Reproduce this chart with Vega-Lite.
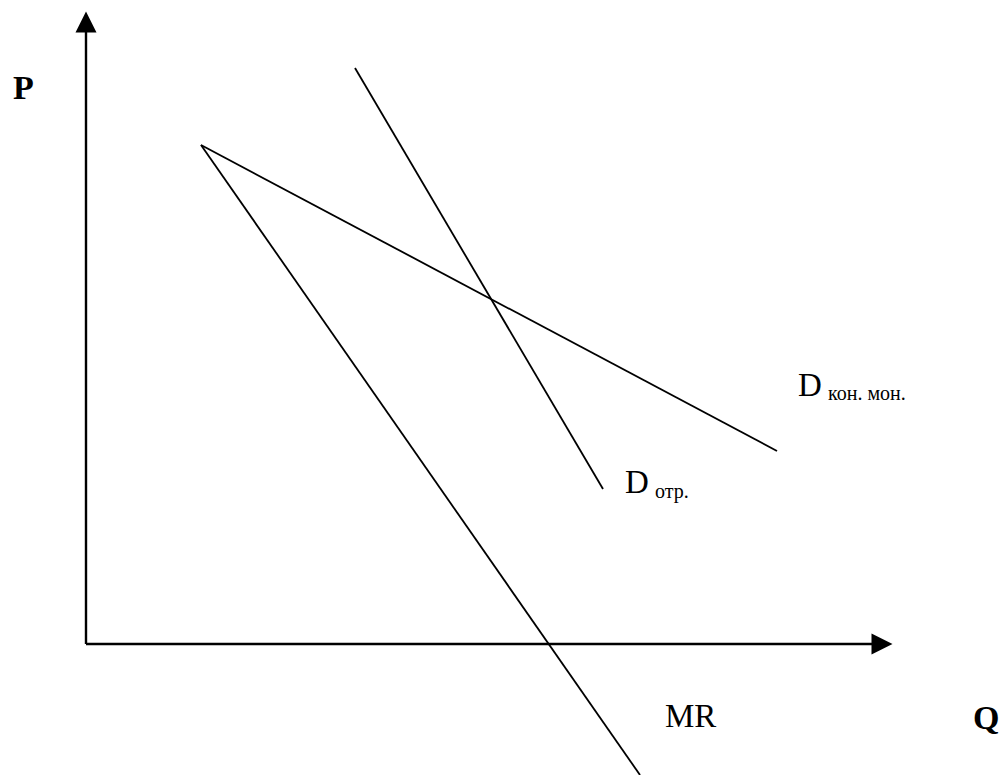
{
  "$schema": "https://vega.github.io/schema/vega-lite/v6.json",
  "width": 1005,
  "height": 775,
  "padding": 0,
  "autosize": {"type": "none"},
  "background": "white",
  "config": {"view": {"stroke": null}},
  "datasets": {
    "segments": [
      {"name": "P axis", "q1": 0, "p1": 0, "q2": 0, "p2": 614, "kind": "axis"},
      {"name": "Q axis", "q1": 0, "p1": 0, "q2": 788, "p2": 0, "kind": "axis"},
      {"name": "D_отр", "q1": 269, "p1": 576, "q2": 517, "p2": 155, "kind": "curve"},
      {"name": "D_кон.мон", "q1": 115, "p1": 499, "q2": 691, "p2": 193, "kind": "curve"},
      {"name": "MR", "q1": 115, "p1": 499, "q2": 554, "p2": -131, "kind": "curve"}
    ],
    "labels": [
      {"text": "P", "q": -73, "p": 545, "kind": "axis"},
      {"text": "Q", "q": 887, "p": -85, "kind": "axis"},
      {"text": "MR", "q": 579, "p": -83, "kind": "main"},
      {"text": "D", "q": 712, "p": 248, "kind": "main"},
      {"text": "кон. мон.", "q": 742, "p": 244, "kind": "sub"},
      {"text": "D", "q": 539, "p": 151, "kind": "main"},
      {"text": "отр.", "q": 569, "p": 146, "kind": "sub"}
    ],
    "arrows": [
      {"dir": "up", "q": 0, "p": 622},
      {"dir": "right", "q": 796, "p": 0}
    ]
  },
  "layer": [
    {
      "data": {"name": "segments"},
      "transform": [{"filter": "datum.kind === 'axis'"}],
      "mark": {"type": "rule", "color": "black", "strokeWidth": 2.4},
      "encoding": {
        "x": {"field": "q1", "type": "quantitative", "scale": {"domain": [-86, 919], "nice": false, "zero": false}, "axis": null},
        "y": {"field": "p1", "type": "quantitative", "scale": {"domain": [-131, 644], "nice": false, "zero": false}, "axis": null},
        "x2": {"field": "q2"},
        "y2": {"field": "p2"}
      }
    },
    {
      "data": {"name": "segments"},
      "transform": [{"filter": "datum.kind === 'curve'"}],
      "mark": {"type": "rule", "color": "black", "strokeWidth": 1.8},
      "encoding": {
        "x": {"field": "q1", "type": "quantitative", "axis": null},
        "y": {"field": "p1", "type": "quantitative", "axis": null},
        "x2": {"field": "q2"},
        "y2": {"field": "p2"}
      }
    },
    {
      "data": {"name": "arrows"},
      "transform": [{"filter": "datum.dir === 'up'"}],
      "mark": {"type": "point", "shape": "M0,-1L1,1L-1,1Z", "filled": true, "color": "black", "opacity": 1, "size": 441},
      "encoding": {
        "x": {"field": "q", "type": "quantitative", "axis": null},
        "y": {"field": "p", "type": "quantitative", "axis": null}
      }
    },
    {
      "data": {"name": "arrows"},
      "transform": [{"filter": "datum.dir === 'right'"}],
      "mark": {"type": "point", "shape": "M1,0L-1,-1L-1,1Z", "filled": true, "color": "black", "opacity": 1, "size": 441},
      "encoding": {
        "x": {"field": "q", "type": "quantitative", "axis": null},
        "y": {"field": "p", "type": "quantitative", "axis": null}
      }
    },
    {
      "data": {"name": "labels"},
      "transform": [{"filter": "datum.kind === 'axis'"}],
      "mark": {"type": "text", "font": "Liberation Serif", "fontWeight": "bold", "fontSize": 34, "align": "left", "baseline": "alphabetic", "color": "black"},
      "encoding": {
        "x": {"field": "q", "type": "quantitative", "axis": null},
        "y": {"field": "p", "type": "quantitative", "axis": null},
        "text": {"field": "text"}
      }
    },
    {
      "data": {"name": "labels"},
      "transform": [{"filter": "datum.kind === 'main'"}],
      "mark": {"type": "text", "font": "Liberation Serif", "fontSize": 33, "align": "left", "baseline": "alphabetic", "color": "black"},
      "encoding": {
        "x": {"field": "q", "type": "quantitative", "axis": null},
        "y": {"field": "p", "type": "quantitative", "axis": null},
        "text": {"field": "text"}
      }
    },
    {
      "data": {"name": "labels"},
      "transform": [{"filter": "datum.kind === 'sub'"}],
      "mark": {"type": "text", "font": "Liberation Serif", "fontSize": 20, "align": "left", "baseline": "alphabetic", "color": "black"},
      "encoding": {
        "x": {"field": "q", "type": "quantitative", "axis": null},
        "y": {"field": "p", "type": "quantitative", "axis": null},
        "text": {"field": "text"}
      }
    }
  ]
}
